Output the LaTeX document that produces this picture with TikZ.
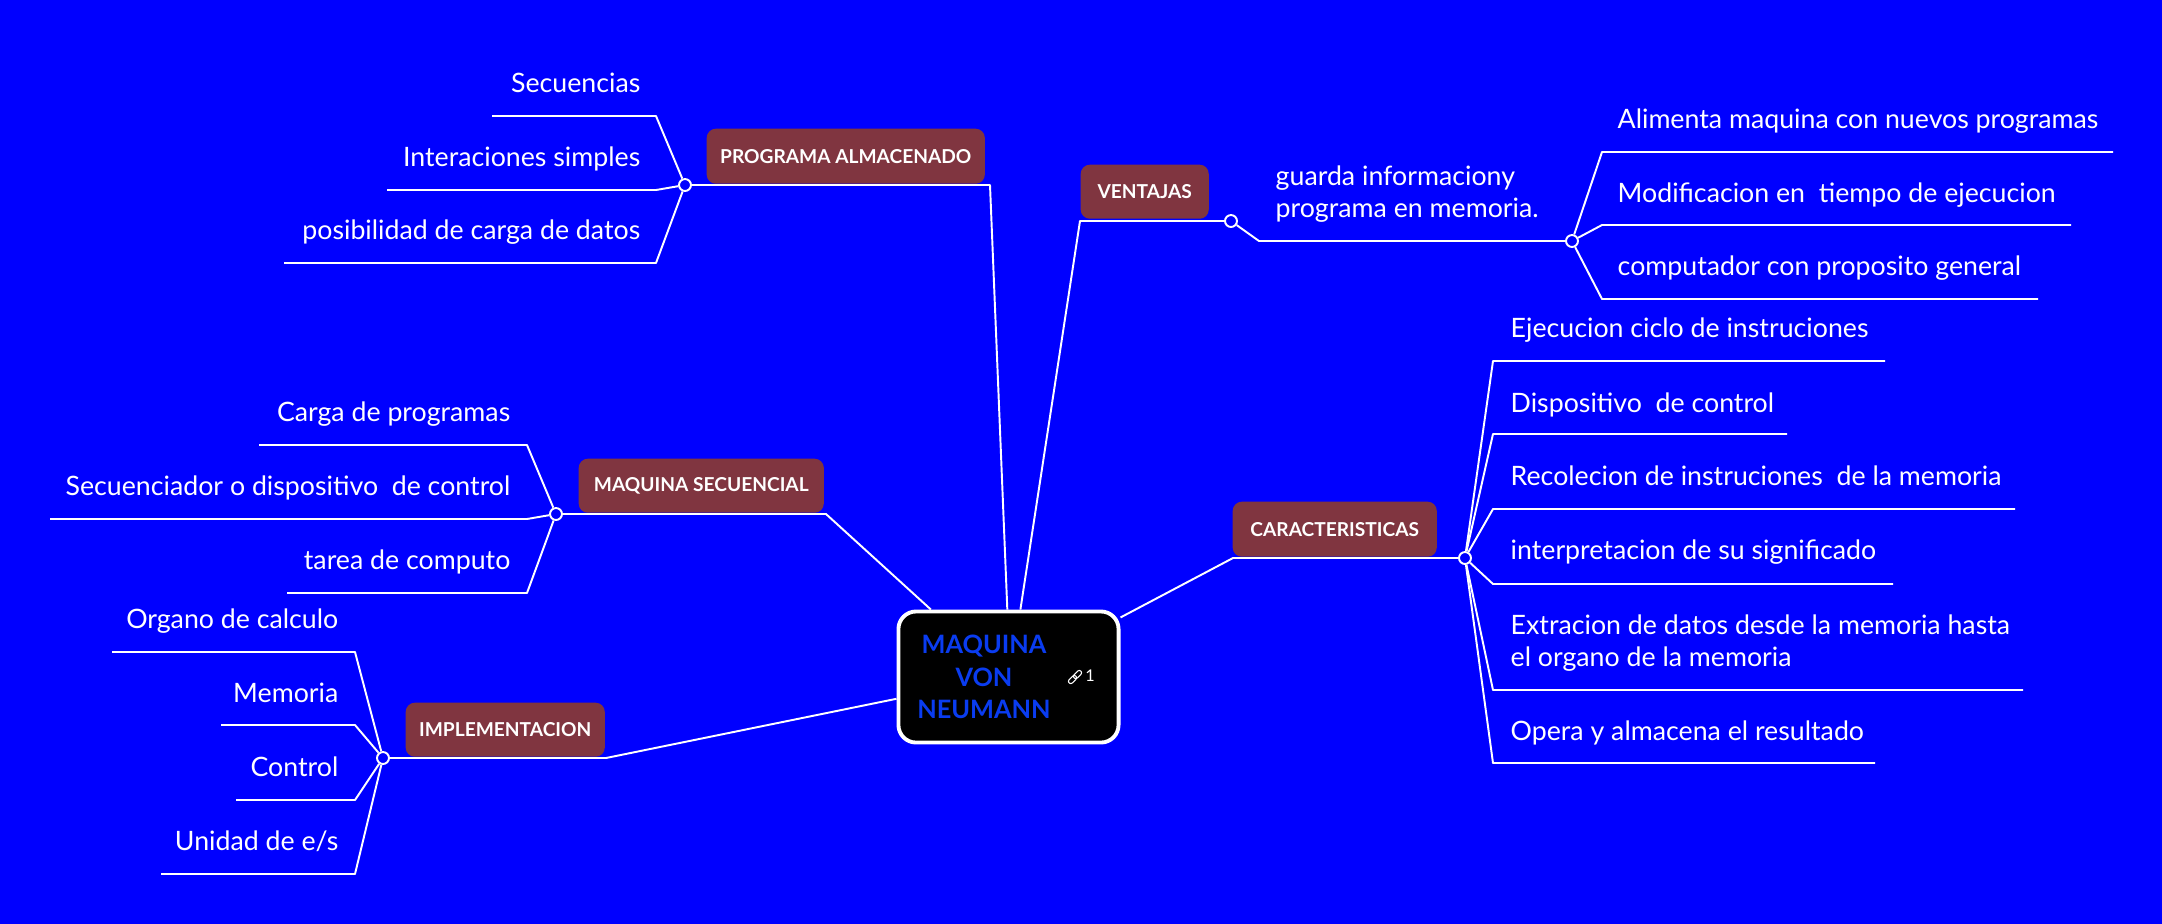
\documentclass[tikz,border=0pt]{standalone}
\usepackage{fontspec}
\setmainfont{Lato}
\definecolor{bgblue}{HTML}{0000FF}
\definecolor{topicred}{HTML}{803540}
\definecolor{titleblue}{HTML}{0A3CF0}
\tikzset{
  wire/.style={draw=white,line width=.55pt,line join=round},
  hub/.style={circle,draw=white,fill=bgblue,line width=.55pt,inner sep=0pt,minimum size=3.4pt},
  topic/.style={rectangle,rounded corners=2.6pt,fill=topicred,text=white,font=\fontsize{5.45pt}{7pt}\selectfont\bfseries,inner sep=0pt,anchor=north west},
  leaf/.style={text=white,font=\fontsize{7.6pt}{9.1pt}\selectfont,inner sep=0pt,align=left,text height=5.2pt,text depth=1.6pt,yshift=-.8pt},
  centre/.style={rectangle,rounded corners=5pt,draw=white,fill=black,line width=1.1pt,inner sep=0pt},
  chainlink/.style={rectangle,rotate=45,rounded corners=.6pt,draw=white,line width=.3pt,inner sep=0pt,minimum width=2.7pt,minimum height=1.3pt}
}
\begin{document}
\begin{tikzpicture}[x=.01cm,y=-.01cm]
  \useasboundingbox (0,0) rectangle (2162,923);
  \fill[bgblue] (-5,-5) rectangle (2170,930);
  % centre
  \node[centre,minimum width=2.2cm,minimum height=1.31cm] (main) at (1008.5,677) {};
  \node[text=titleblue,font=\fontsize{7.2pt}{9.2pt}\selectfont\bfseries,align=center,inner sep=0pt] (title) at (984,677) {MAQUINA\\VON\\NEUMANN};
  \foreach \nm/\d in {a/-2.5,b/2.5}{
    \node[chainlink] (link\nm) at ({1075+\d},{677-\d}) {};
  }
  \node[text=white,font=\fontsize{4.6pt}{6pt}\selectfont,inner sep=0pt] (linknum) at (1090,676) {1};
  % topics
  \node[topic,minimum width=278*.2845pt,minimum height=55*.2845pt] (prog) at (706,128) {PROGRAMA ALMACENADO};
  \node[topic,minimum width=128*.2845pt,minimum height=54*.2845pt] (vent) at (1080,164) {VENTAJAS};
  \node[topic,minimum width=204*.2845pt,minimum height=55*.2845pt] (cara) at (1232,501) {CARACTERISTICAS};
  \node[topic,minimum width=245*.2845pt,minimum height=54*.2845pt] (secu) at (578,458) {MAQUINA SECUENCIAL};
  \node[topic,minimum width=199*.2845pt,minimum height=54*.2845pt] (impl) at (405,702) {IMPLEMENTACION};
  % hubs
  \node[hub] (hprog) at (685,185) {};
  \node[hub] (hvent) at (1231,221) {};
  \node[hub] (hguar) at (1572,241) {};
  \node[hub] (hcara) at (1465,558) {};
  \node[hub] (hsecu) at (556,514) {};
  \node[hub] (himpl) at (383,758) {};
  % topic lines
  \draw[wire] (hprog) -- (990,185) -- (main.91);
  \draw[wire] (hvent) -- (1080,221) -- (main.80);
  \draw[wire] (hcara) -- (1233,558) -- (main.28);
  \draw[wire] (hsecu) -- (826,514) -- (main.139);
  \draw[wire] (himpl) -- (606,758) -- (main.191);
  % guarda
  \node[leaf,anchor=west] (guar) at (1275,208) {guarda informaciony\\programa en memoria.};
  \coordinate (guarb) at (1259,241);
  \draw[wire] (hvent) -- (guarb) -- (hguar);
  % leaves
  \foreach \nm/\yt/\yl/\xe/\txt in {a/119/152/2113/Alimenta maquina con nuevos programas,b/193/225/2071/Modificacion en\ \ tiempo de ejecucion,c/266/299/2038/computador con proposito general}{
    \node[leaf,anchor=west] (v\nm) at (1617,\yt) {\txt};
    \coordinate (v\nm b) at (1602,\yl);
    \coordinate (v\nm e) at (\xe,\yl);
    \draw[wire] (hguar) -- (v\nm b) -- (v\nm e);
  }
  \foreach \nm/\yt/\yl/\xe/\txt in {a/328/361/1885/Ejecucion ciclo de instruciones,b/403/434/1787/Dispositivo\ \ de control,c/476/509/2015/Recolecion de instruciones\ \ de la memoria,d/550/584/1893/interpretacion de su significado,e/657/690/2023/{Extracion de datos desde la memoria hasta\\el organo de la memoria},f/731/763/1875/Opera y almacena el resultado}{
    \node[leaf,anchor=west] (c\nm) at (1510,\yt) {\txt};
    \coordinate (c\nm b) at (1493,\yl);
    \coordinate (c\nm e) at (\xe,\yl);
    \draw[wire] (hcara) -- (c\nm b) -- (c\nm e);
  }
  \foreach \nm/\yt/\yl/\xe/\txt in {a/83/116/492/Secuencias,b/157/190/387/Interaciones simples,c/230/263/284/posibilidad de carga de datos}{
    \node[leaf,anchor=east] (p\nm) at (641,\yt) {\txt};
    \coordinate (p\nm b) at (656,\yl);
    \coordinate (p\nm e) at (\xe,\yl);
    \draw[wire] (hprog) -- (p\nm b) -- (p\nm e);
  }
  \foreach \nm/\yt/\yl/\xe/\txt in {a/412/445/259/Carga de programas,b/486/519/50/Secuenciador o dispositivo\ \ de control,c/560/593/287/tarea de computo}{
    \node[leaf,anchor=east] (s\nm) at (511,\yt) {\txt};
    \coordinate (s\nm b) at (527,\yl);
    \coordinate (s\nm e) at (\xe,\yl);
    \draw[wire] (hsecu) -- (s\nm b) -- (s\nm e);
  }
  \foreach \nm/\yt/\yl/\xe/\txt in {a/619/652/112/Organo de calculo,b/693/725/221/Memoria,c/767/800/236/Control,d/841/874/161/{Unidad de e/s}}{
    \node[leaf,anchor=east] (i\nm) at (339,\yt) {\txt};
    \coordinate (i\nm b) at (355,\yl);
    \coordinate (i\nm e) at (\xe,\yl);
    \draw[wire] (himpl) -- (i\nm b) -- (i\nm e);
  }
\end{tikzpicture}
\end{document}
